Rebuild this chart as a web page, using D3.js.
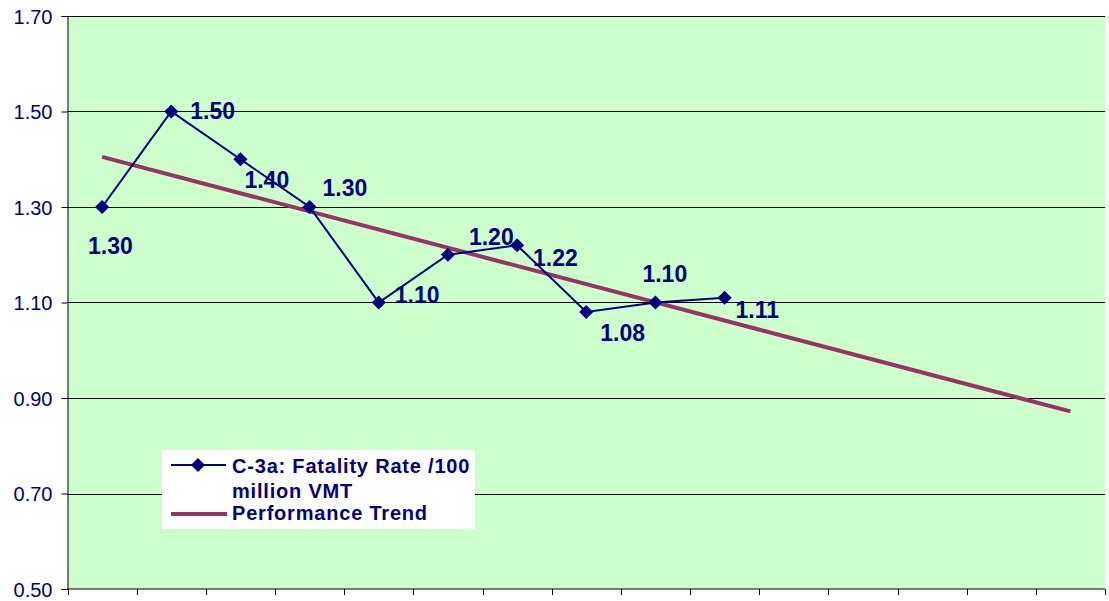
<!DOCTYPE html>
<html>
<head>
<meta charset="utf-8">
<script src="https://cdn.jsdelivr.net/npm/d3@7"></script>
<style>
  body { margin: 0; background: #fff; }
  svg { display: block; }
</style>
</head>
<body>
<svg id="chart" width="1109" height="601"></svg>
<script>
// categories along the x axis (unlabelled in the original)
const categories = ["1", "2", "3", "4", "5", "6", "7", "8", "9", "10", "11", "12", "13", "14", "15"]
// C-3a: Fatality Rate /100 million VMT
const rateValues = [1.30, 1.50, 1.40, 1.30, 1.10, 1.20, 1.22, 1.08, 1.10, 1.11]
const rateLabels = ["1.30", "1.50", "1.40", "1.30", "1.10", "1.20", "1.22", "1.08", "1.10", "1.11"]
// Performance trend, start and end
const trendCats = ["1", "15"]
const trendValues = [1.405, 0.872]
const yTicks = [0.50, 0.70, 0.90, 1.10, 1.30, 1.50, 1.70]

// hand placed label offsets (left edge, baseline) from the point
const labelOffsets = [[-14, 47], [19, 7], [4, 29], [13, -11], [16, 0],
                      [21, -10], [16, 21], [14, 29], [-13, -21], [11, 20]]

var navy = "#000080"
var trendColor = "#993366"
var margin = { left: 67.5, right: 4, top: 16, bottom: 12 }
var W = 1109, H = 601

var svg = d3.select('#chart')

var x = d3.scaleBand()
    .domain(categories)
    .range([margin.left, W - margin.right])

var y = d3.scaleLinear()
    .domain([0.5, 1.7])
    .range([H - margin.bottom, margin.top])

// plot background
svg.append('rect')
    .attr('x', margin.left)
    .attr('y', y(1.7))
    .attr('width', x.range()[1] - margin.left)
    .attr('height', y(0.5) - y(1.7))
    .attr('fill', '#ccffcc')

// gridlines
svg.append('g')
    .selectAll('line')
    .data(yTicks.filter(d => d > 0.5))
    .enter()
    .append('line')
    .attr('x1', margin.left)
    .attr('x2', x.range()[1])
    .attr('y1', d => Math.round(y(d)) + 0.5)
    .attr('y2', d => Math.round(y(d)) + 0.5)
    .attr('stroke', '#000')
    .attr('stroke-width', 1)

// y axis
var yAxis = d3.axisLeft(y)
    .tickValues(yTicks)
    .tickFormat(d3.format('.2f'))
    .tickSize(6)
    .tickPadding(9)

var yg = svg.append('g')
    .attr('transform', 'translate(' + margin.left + ',0)')
    .call(yAxis)
yg.select('.domain').attr('stroke', '#000')
yg.selectAll('.tick line').attr('stroke', '#000')
yg.selectAll('.tick text')
    .attr('fill', navy)
    .style('font-family', 'Liberation Sans, Arial, sans-serif')
    .style('font-size', '20px')
    .attr('dy', '0.36em')

// x axis, ticks between categories, no labels
var xg = svg.append('g')
    .attr('transform', 'translate(0,' + y(0.5) + ')')
xg.append('line')
    .attr('x1', margin.left)
    .attr('x2', x.range()[1])
    .attr('stroke', '#000')
xg.selectAll('.xtick')
    .data(categories.map(c => x(c)).concat([x.range()[1]]))
    .enter()
    .append('line')
    .attr('class', 'xtick')
    .attr('x1', d => Math.round(d) + 0.5)
    .attr('x2', d => Math.round(d) + 0.5)
    .attr('y1', 0)
    .attr('y2', 6)
    .attr('stroke', '#000')

var cx = c => x(c) + x.bandwidth() / 2

// trend line
svg.append('line')
    .attr('x1', cx(trendCats[0]))
    .attr('y1', y(trendValues[0]))
    .attr('x2', cx(trendCats[1]))
    .attr('y2', y(trendValues[1]))
    .attr('stroke', trendColor)
    .attr('stroke-width', 4)

// rate series
var line = d3.line()
    .x((d, i) => cx(categories[i]))
    .y(d => y(d))

svg.append('path')
    .datum(rateValues)
    .attr('d', line)
    .attr('fill', 'none')
    .attr('stroke', navy)
    .attr('stroke-width', 2)

var diamond = d3.symbol().type(d3.symbolSquare).size(100)

svg.selectAll('.pt')
    .data(rateValues)
    .enter()
    .append('path')
    .attr('class', 'pt')
    .attr('d', diamond)
    .attr('fill', navy)
    .attr('transform', (d, i) => 'translate(' + cx(categories[i]) + ',' + y(d) + ') rotate(45)')

svg.selectAll('.lbl')
    .data(rateValues)
    .enter()
    .append('text')
    .attr('class', 'lbl')
    .attr('x', (d, i) => cx(categories[i]) + labelOffsets[i][0])
    .attr('y', (d, i) => y(d) + labelOffsets[i][1])
    .attr('fill', navy)
    .style('font-family', 'Liberation Sans, Arial, sans-serif')
    .style('font-size', '23px')
    .style('font-weight', 'bold')
    .text((d, i) => rateLabels[i])

// legend
var lg = svg.append('g')
lg.append('rect')
    .attr('x', 162)
    .attr('y', 450)
    .attr('width', 313)
    .attr('height', 79)
    .attr('fill', '#fff')

lg.append('line')
    .attr('x1', 171).attr('x2', 226)
    .attr('y1', 465).attr('y2', 465)
    .attr('stroke', navy)
    .attr('stroke-width', 2)
lg.append('path')
    .attr('d', diamond)
    .attr('fill', navy)
    .attr('transform', 'translate(198,465) rotate(45)')
lg.append('line')
    .attr('x1', 171).attr('x2', 227)
    .attr('y1', 514).attr('y2', 514)
    .attr('stroke', trendColor)
    .attr('stroke-width', 4)

var legendLines = [["C-3a: Fatality Rate /100", 473], ["million VMT", 498], ["Performance Trend", 520]]
lg.selectAll('.ltxt')
    .data(legendLines)
    .enter()
    .append('text')
    .attr('class', 'ltxt')
    .attr('x', 232)
    .attr('y', d => d[1])
    .attr('fill', navy)
    .style('font-family', 'Liberation Sans, Arial, sans-serif')
    .style('font-size', '20px')
    .style('font-weight', 'bold')
    .style('letter-spacing', '0.8px')
    .text(d => d[0])
</script>
</body>
</html>
